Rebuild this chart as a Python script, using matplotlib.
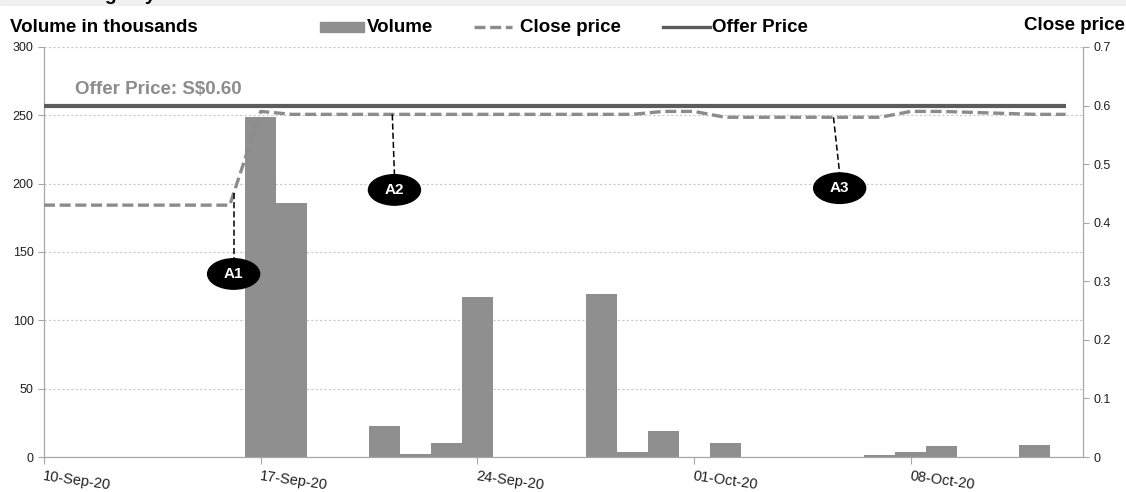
import matplotlib
matplotlib.use("Agg")
import matplotlib.pyplot as plt
import matplotlib.dates as mdates
from matplotlib.patches import Ellipse, Rectangle
from matplotlib.lines import Line2D
import numpy as np
import pandas as pd

plt.rcParams['font.family'] = ['Liberation Sans', 'DejaVu Sans']

# trading days shown on the chart
dates = pd.to_datetime([
    '2020-09-10', '2020-09-11', '2020-09-14', '2020-09-15', '2020-09-16',
    '2020-09-17', '2020-09-18', '2020-09-21', '2020-09-22', '2020-09-23',
    '2020-09-24', '2020-09-25', '2020-09-28', '2020-09-29', '2020-09-30',
    '2020-10-01', '2020-10-02', '2020-10-05', '2020-10-06', '2020-10-07',
    '2020-10-08', '2020-10-09', '2020-10-12', '2020-10-13'])
volume = [0, 0, 0, 0, 0,
          249, 186, 23, 2.5, 10,
          117, 0, 119, 4, 19,
          0, 10, 0, 0, 1.5,
          4, 8, 9, 0]
close_price = [0.43, 0.43, 0.43, 0.43, 0.43,
               0.59, 0.585, 0.585, 0.585, 0.585,
               0.585, 0.585, 0.585, 0.585, 0.59,
               0.59, 0.58, 0.58, 0.58, 0.58,
               0.59, 0.59, 0.585, 0.585]
offer_price = 0.60
tick_dates = pd.to_datetime(['2020-09-10', '2020-09-17', '2020-09-24', '2020-10-01', '2020-10-08'])

# callouts: label, anchor day, label position (close price axis)
callout_labels = ['A1', 'A2', 'A3']
callout_anchor = pd.to_datetime(['2020-09-16 03:00', '2020-09-21 06:00', '2020-10-05 12:00'])
callout_shift = [0.0, 0.07, 0.2]   # days, label drift from anchor
callout_y = [0.3125, 0.456, 0.459]

bar_color = '#8f8f8f'
close_color = '#8c8c8c'
offer_color = '#5c5c5c'
axis_color = '#a6a6a6'

fig = plt.figure(figsize=(11.26, 4.92), dpi=100)
ax = fig.add_axes([44 / 1126, 35 / 492, (1083 - 44) / 1126, 410 / 492])
ax2 = ax.twinx()

ax.bar(dates, volume, width=1.0, color=bar_color, zorder=2)
ax.set_ylim(0, 300)
ax.set_yticks(range(0, 301, 50))
ax.yaxis.grid(True, linestyle=(0, (2, 2)), color='#c8c8c8', lw=0.8)
ax.set_axisbelow(True)

start = pd.Timestamp('2020-09-10')
ax.set_xlim(start, start + pd.Timedelta(days=33.56))
ax.set_xticks(tick_dates)
ax.set_xticklabels([d.strftime('%d-%b-%y') for d in tick_dates], rotation=-8,
                   ha='left', va='top', rotation_mode='anchor', fontsize=10.5, color='#202020')

ax2.plot(dates, close_price, color=close_color, lw=2.4, linestyle=(0, (3.3, 1.4)), zorder=3)
ax2.plot(dates, [offer_price] * len(dates), color=offer_color, lw=3, solid_capstyle='butt', zorder=3)
ax2.set_ylim(0, 0.7)
ax2.set_yticks(np.arange(0, 0.71, 0.1))
ax2.set_yticklabels(['0'] + ['%.1f' % v for v in np.arange(0.1, 0.71, 0.1)])

ax2.text(pd.Timestamp('2020-09-11'), 0.628, 'Offer Price: S$0.60', color=close_color,
         fontsize=13.5, fontweight='bold', va='center', ha='left')

for a in (ax, ax2):
    a.spines['top'].set_visible(False)
    for s in ('left', 'right', 'bottom'):
        a.spines[s].set_color(axis_color)
    a.tick_params(axis='y', colors=axis_color, labelcolor='#202020', labelsize=9, length=4)
ax.tick_params(axis='x', colors=axis_color, labelcolor='#202020', length=5)

# callouts
close_num = mdates.date2num(dates)
for lab, anc, sh, yl in zip(callout_labels, callout_anchor, callout_shift, callout_y):
    xa = mdates.date2num(anc)
    ya = np.interp(xa, close_num, close_price)
    xl = xa + sh
    ax2.plot([xa, xl], [ya, yl + 0.025], color='black', lw=1.1, linestyle=(0, (4, 2)), zorder=4)
    ax2.add_patch(Ellipse((xl, yl), 1.68, 0.052, facecolor='black', edgecolor='black', zorder=5))
    ax2.text(xl, yl, lab, color='white', fontsize=11, fontweight='bold', ha='center', va='center', zorder=6)

# axis titles
fig.text(10 / 1126, 1 - 27 / 492, 'Volume in thousands', fontsize=13.5, fontweight='bold', va='center', ha='left')
fig.text(1125 / 1126, 1 - 25 / 492, 'Close price', fontsize=13.5, fontweight='bold', va='center', ha='right')

# legend
ly = 1 - 27 / 492
fig.add_artist(Rectangle((320 / 1126, ly - 5 / 492), 44 / 1126, 10 / 492, color=bar_color, transform=fig.transFigure))
fig.text(367 / 1126, ly, 'Volume', fontsize=13.5, fontweight='bold', va='center', ha='left')
fig.add_artist(Line2D([474 / 1126, 512 / 1126], [ly, ly], color=close_color, lw=2.4,
                      linestyle=(0, (3.3, 1.4)), transform=fig.transFigure))
fig.text(520 / 1126, ly, 'Close price', fontsize=13.5, fontweight='bold', va='center', ha='left')
fig.add_artist(Line2D([663 / 1126, 710 / 1126], [ly, ly], color=offer_color, lw=2.4,
                      transform=fig.transFigure))
fig.text(712 / 1126, ly, 'Offer Price', fontsize=13.5, fontweight='bold', va='center', ha='left')

# cut-off header band
fig.add_artist(Rectangle((0, 1 - 5 / 492), 1, 5 / 492, color='#f0f0f0', transform=fig.transFigure, zorder=0))
fig.text(2 / 1126, 1 + 0.5 / 492, 'Post-trading day and the weeks that followed its admission',
         fontsize=14, fontweight='bold', va='baseline', ha='left')

fig.savefig('out.png', dpi=100)
